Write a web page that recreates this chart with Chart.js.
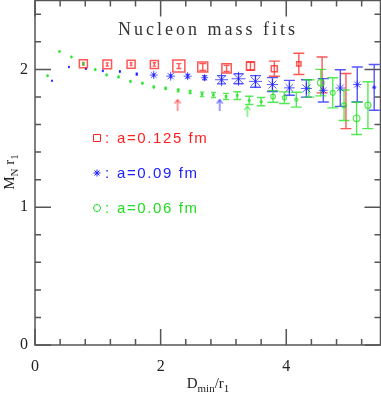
<!DOCTYPE html>
<html lang="en">
<head>
<meta charset="UTF-8">
<title>Nucleon mass fits</title>
<style>
  html,body{margin:0;padding:0;background:#fff;}
  .plot{width:381px;height:393px;}
</style>
</head>
<body>
<div class="plot"><canvas id="mychart"></canvas></div>
<script src="https://cdn.jsdelivr.net/npm/chart.js"></script>
<script>
// a=0.125 fm  (squares)
const redX = [0.77, 1.15, 1.53, 1.90, 2.29, 2.67, 3.05, 3.43, 3.81, 4.20, 4.57, 4.95];
const redY = [2.041, 2.036, 2.038, 2.036, 2.024, 2.017, 2.007, 2.024, 2.005, 2.040, 1.960, 1.770];
const redErr = [0.010, 0.011, 0.010, 0.012, 0.018, 0.025, 0.022, 0.030, 0.055, 0.077, 0.130, 0.200];
const redWeight = [0.67, 0.72, 0.67, 0.67, 1.0, 0.83, 0.78, 0.67, 0.5, 0.36, 0, 0];

// a=0.09 fm  (bursts)
const blueX = [0.27, 0.54, 0.81, 1.08, 1.35, 1.62, 1.89, 2.16, 2.43, 2.70, 2.97, 3.24, 3.51, 3.78, 4.05, 4.32, 4.59, 4.86, 5.13, 5.40];
const blueY = [1.918, 2.017, 2.005, 1.990, 1.985, 1.966, 1.959, 1.951, 1.951, 1.940, 1.925, 1.932, 1.913, 1.890, 1.866, 1.862, 1.848, 1.865, 1.890, 1.870];
const blueErr = [0.004, 0.004, 0.005, 0.005, 0.006, 0.007, 0.008, 0.010, 0.012, 0.015, 0.030, 0.036, 0.042, 0.050, 0.054, 0.063, 0.085, 0.133, 0.127, 0.166];
const blueWeight = [0.12, 0.12, 0.15, 0.15, 0.15, 0.2, 0.57, 0.64, 0.57, 0.5, 0.93, 1.0, 0.93, 0.8, 0.75, 0.8, 0.6, 0.7, 0.6, 0.3];

// a=0.06 fm  (circles)
const greenX = [0.20, 0.39, 0.58, 0.77, 0.96, 1.14, 1.33, 1.52, 1.71, 1.89, 2.08, 2.28, 2.47, 2.66, 2.84, 3.04, 3.22, 3.41, 3.60, 3.79, 3.97, 4.16, 4.36, 4.55, 4.74, 4.92, 5.12, 5.30];
const greenY = [1.954, 2.130, 2.090, 2.040, 1.998, 1.960, 1.945, 1.913, 1.900, 1.872, 1.862, 1.848, 1.836, 1.819, 1.814, 1.804, 1.810, 1.775, 1.766, 1.804, 1.795, 1.780, 1.862, 1.904, 1.830, 1.740, 1.645, 1.740];
const greenErr = [0.004, 0.004, 0.004, 0.005, 0.005, 0.005, 0.006, 0.006, 0.006, 0.007, 0.008, 0.010, 0.012, 0.016, 0.018, 0.022, 0.028, 0.030, 0.030, 0.042, 0.042, 0.054, 0.063, 0.096, 0.109, 0.111, 0.117, 0.170];
const greenWeight = [0.25, 0.25, 0.25, 0.25, 0.25, 0.25, 0.25, 0.25, 0.25, 0.25, 0.25, 0.25, 0.25, 0.25, 0.25, 0.25, 0.25, 0.3, 0.3, 0.68, 0.57, 0.43, 0.25, 0.95, 0.7, 0.7, 0.95, 0.86];

// chosen fits (arrows): red, blue, green
const arrowX = [2.27, 2.94, 3.38];
const arrowY = [1.745, 1.745, 1.697];

const xTickLabels = [0, 2, 4];
const yTickLabels = [0, 1, 2];
const xMinorStep = 0.4;
const yMinorStep = 0.2;

const RED = 'rgba(255,30,30,0.75)';
const BLUE = 'rgba(30,30,255,0.75)';
const GREEN = 'rgba(30,225,30,0.75)';

const series = [
  {x: redX, y: redY, err: redErr, color: RED},
  {x: blueX, y: blueY, err: blueErr, color: BLUE},
  {x: greenX, y: greenY, err: greenErr, color: GREEN}
];

function pts(xs, ys) {
  return xs.map((v, i) => ({x: v, y: ys[i]}));
}

// small up arrow used as point style
function makeArrow(color) {
  const c = document.createElement('canvas');
  c.width = 8; c.height = 12;
  const g = c.getContext('2d');
  g.strokeStyle = color; g.lineWidth = 1.2;
  g.beginPath();
  g.moveTo(4, 1); g.lineTo(4, 12);
  g.moveTo(1, 5); g.lineTo(4, 1); g.lineTo(7, 5);
  g.stroke();
  return c;
}

// text with subscripts, centred on x
function drawParts(ctx, parts, x, y, big, small) {
  let w = 0;
  parts.forEach(p => {
    ctx.font = (p[1] ? small : big) + 'px "Liberation Serif"';
    w += ctx.measureText(p[0]).width;
  });
  let cx = x - w / 2;
  parts.forEach(p => {
    ctx.font = (p[1] ? small : big) + 'px "Liberation Serif"';
    ctx.fillText(p[0], cx, p[1] ? y + 4 : y);
    cx += ctx.measureText(p[0]).width;
  });
}

const errorBars = {
  id: 'errorBars',
  beforeDatasetsDraw(chart) {
    const {ctx, scales: {x, y}} = chart;
    series.forEach(s => {
      ctx.save();
      ctx.strokeStyle = s.color;
      ctx.lineWidth = 1.4;
      ctx.beginPath();
      s.x.forEach((v, i) => {
        const px = x.getPixelForValue(v);
        const top = y.getPixelForValue(s.y[i] + s.err[i]);
        const bot = y.getPixelForValue(s.y[i] - s.err[i]);
        const cap = Math.min(5.5, (bot - top) / 2);
        ctx.moveTo(px, top); ctx.lineTo(px, bot);
        ctx.moveTo(px - cap, top); ctx.lineTo(px + cap, top);
        ctx.moveTo(px - cap, bot); ctx.lineTo(px + cap, bot);
      });
      ctx.stroke();
      ctx.restore();
    });
  }
};

const frame = {
  id: 'frame',
  afterDraw(chart) {
    const {ctx, chartArea: a, scales: {x, y}} = chart;
    ctx.save();
    ctx.strokeStyle = '#555';
    ctx.lineWidth = 1.5;
    ctx.strokeRect(a.left, a.top, a.right - a.left, a.bottom - a.top);
    ctx.beginPath();
    for (let v = 0; v <= x.max + 1e-9; v += xMinorStep) {
      const px = x.getPixelForValue(v);
      const major = xTickLabels.some(t => Math.abs(t - v) < 1e-6);
      const len = major ? 16 : 6;
      ctx.moveTo(px, a.bottom); ctx.lineTo(px, a.bottom - len);
      ctx.moveTo(px, a.top); ctx.lineTo(px, a.top + len);
    }
    for (let v = 0; v <= y.max + 1e-9; v += yMinorStep) {
      const py = y.getPixelForValue(v);
      const major = yTickLabels.some(t => Math.abs(t - v) < 1e-6);
      const len = major ? 16 : 6;
      ctx.moveTo(a.left, py); ctx.lineTo(a.left + len, py);
      ctx.moveTo(a.right, py); ctx.lineTo(a.right - len, py);
    }
    ctx.stroke();

    // tick labels
    ctx.fillStyle = '#222';
    ctx.font = '16px "Liberation Serif"';
    ctx.textAlign = 'center';
    ctx.textBaseline = 'alphabetic';
    xTickLabels.forEach(t => ctx.fillText(String(t), x.getPixelForValue(t), a.bottom + 26));
    ctx.textAlign = 'right';
    ctx.textBaseline = 'middle';
    yTickLabels.forEach(t => ctx.fillText(String(t), a.left - 7, y.getPixelForValue(t)));

    // axis titles
    ctx.textAlign = 'left';
    ctx.textBaseline = 'alphabetic';
    drawParts(ctx, [['D', false], ['min', true], ['/r', false], ['1', true]], 208, 388, 15, 11);
    ctx.save();
    ctx.translate(14, 172);
    ctx.rotate(-Math.PI / 2);
    drawParts(ctx, [['M', false], ['N', true], [' r', false], ['1', true]], 0, 0, 15, 11);
    ctx.restore();

    // title
    ctx.fillStyle = '#333';
    ctx.font = '18px "Liberation Serif"';
    ctx.letterSpacing = '3px';
    ctx.textAlign = 'center';
    ctx.fillText('Nucleon mass fits', 208, 35);

    // legend
    const leg = [
      {label: 'a=0.125 fm', color: '#ff2020', y: 138},
      {label: 'a=0.09 fm', color: '#2020ff', y: 173},
      {label: 'a=0.06 fm', color: '#20dd20', y: 208}
    ];
    ctx.letterSpacing = '1.6px';
    ctx.textAlign = 'left';
    ctx.textBaseline = 'middle';
    ctx.font = '15px "Liberation Sans"';
    leg.forEach((l, i) => {
      ctx.strokeStyle = l.color;
      ctx.fillStyle = l.color;
      ctx.lineWidth = 1;
      const sx = 97, sy = l.y;
      ctx.beginPath();
      if (i === 0) {
        ctx.rect(sx - 3.5, sy - 3.5, 7, 7);
      } else if (i === 1) {
        for (let k = 0; k < 4; k++) {
          const ang = k * Math.PI / 4;
          ctx.moveTo(sx - 3.5 * Math.cos(ang), sy - 3.5 * Math.sin(ang));
          ctx.lineTo(sx + 3.5 * Math.cos(ang), sy + 3.5 * Math.sin(ang));
        }
      } else {
        ctx.arc(sx, sy, 3.5, 0, Math.PI * 2);
      }
      ctx.stroke();
      ctx.fillText(':', 105, sy + 1);
      ctx.fillText(l.label, 117, sy + 1);
    });
    ctx.restore();
  }
};

new Chart(document.getElementById('mychart'), {
  type: 'scatter',
  data: {
    datasets: [
      {
        label: 'a=0.125 fm',
        data: pts(redX, redY),
        pointStyle: 'rect',
        pointRadius: c => redWeight[c.dataIndex] * 8.5,
        borderColor: RED,
        backgroundColor: 'rgba(0,0,0,0)',
        borderWidth: 1.5
      },
      {
        label: 'a=0.09 fm',
        data: pts(blueX, blueY),
        pointStyle: 'star',
        pointRadius: c => blueWeight[c.dataIndex] * 7,
        borderColor: BLUE,
        backgroundColor: 'rgba(0,0,0,0)',
        borderWidth: 1
      },
      {
        label: 'a=0.06 fm',
        data: pts(greenX, greenY),
        pointStyle: 'circle',
        pointRadius: c => greenWeight[c.dataIndex] * 3.5,
        borderColor: GREEN,
        backgroundColor: 'rgba(0,0,0,0)',
        borderWidth: 1.2
      },
      {data: [{x: arrowX[0], y: arrowY[0]}], pointStyle: makeArrow(RED), pointRadius: 5},
      {data: [{x: arrowX[1], y: arrowY[1]}], pointStyle: makeArrow(BLUE), pointRadius: 5},
      {data: [{x: arrowX[2], y: arrowY[2]}], pointStyle: makeArrow(GREEN), pointRadius: 5}
    ]
  },
  options: {
    responsive: true,
    maintainAspectRatio: false,
    animation: false,
    events: [],
    layout: {autoPadding: false, padding: {left: 35, right: 0.5, top: 0.5, bottom: 48}},
    plugins: {legend: {display: false}, tooltip: {enabled: false}},
    scales: {
      x: {type: 'linear', min: 0, max: 5.5, display: false},
      y: {type: 'linear', min: 0, max: 2.5, display: false}
    }
  },
  plugins: [errorBars, frame]
});
</script>
</body>
</html>
